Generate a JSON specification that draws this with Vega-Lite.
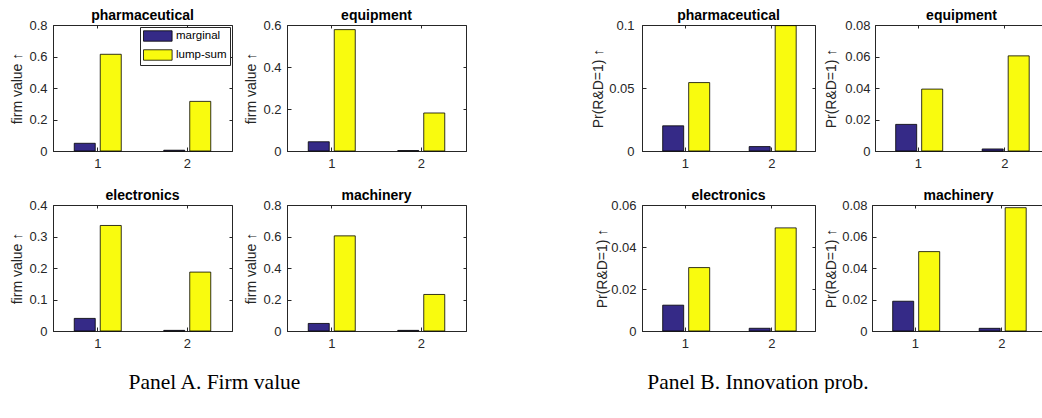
{
  "$schema": "https://vega.github.io/schema/vega-lite/v6.json",
  "padding": {"left": 10, "top": 8, "right": 0, "bottom": 0},
  "background": "white",
  "data": {"values": [
    {"panel": "A", "industry": "pharmaceutical", "k": 1, "type": "marginal", "value": 0.049},
    {"panel": "A", "industry": "pharmaceutical", "k": 1, "type": "lump-sum", "value": 0.614},
    {"panel": "A", "industry": "pharmaceutical", "k": 2, "type": "marginal", "value": 0.005},
    {"panel": "A", "industry": "pharmaceutical", "k": 2, "type": "lump-sum", "value": 0.315},
    {"panel": "A", "industry": "equipment", "k": 1, "type": "marginal", "value": 0.044},
    {"panel": "A", "industry": "equipment", "k": 1, "type": "lump-sum", "value": 0.578},
    {"panel": "A", "industry": "equipment", "k": 2, "type": "marginal", "value": 0.002},
    {"panel": "A", "industry": "equipment", "k": 2, "type": "lump-sum", "value": 0.181},
    {"panel": "A", "industry": "electronics", "k": 1, "type": "marginal", "value": 0.040},
    {"panel": "A", "industry": "electronics", "k": 1, "type": "lump-sum", "value": 0.335},
    {"panel": "A", "industry": "electronics", "k": 2, "type": "marginal", "value": 0.002},
    {"panel": "A", "industry": "electronics", "k": 2, "type": "lump-sum", "value": 0.187},
    {"panel": "A", "industry": "machinery", "k": 1, "type": "marginal", "value": 0.048},
    {"panel": "A", "industry": "machinery", "k": 1, "type": "lump-sum", "value": 0.604},
    {"panel": "A", "industry": "machinery", "k": 2, "type": "marginal", "value": 0.004},
    {"panel": "A", "industry": "machinery", "k": 2, "type": "lump-sum", "value": 0.232},
    {"panel": "B", "industry": "pharmaceutical", "k": 1, "type": "marginal", "value": 0.0200},
    {"panel": "B", "industry": "pharmaceutical", "k": 1, "type": "lump-sum", "value": 0.0543},
    {"panel": "B", "industry": "pharmaceutical", "k": 2, "type": "marginal", "value": 0.0035},
    {"panel": "B", "industry": "pharmaceutical", "k": 2, "type": "lump-sum", "value": 0.0995},
    {"panel": "B", "industry": "equipment", "k": 1, "type": "marginal", "value": 0.0169},
    {"panel": "B", "industry": "equipment", "k": 1, "type": "lump-sum", "value": 0.0393},
    {"panel": "B", "industry": "equipment", "k": 2, "type": "marginal", "value": 0.0013},
    {"panel": "B", "industry": "equipment", "k": 2, "type": "lump-sum", "value": 0.0604},
    {"panel": "B", "industry": "electronics", "k": 1, "type": "marginal", "value": 0.0123},
    {"panel": "B", "industry": "electronics", "k": 1, "type": "lump-sum", "value": 0.0302},
    {"panel": "B", "industry": "electronics", "k": 2, "type": "marginal", "value": 0.0013},
    {"panel": "B", "industry": "electronics", "k": 2, "type": "lump-sum", "value": 0.0491},
    {"panel": "B", "industry": "machinery", "k": 1, "type": "marginal", "value": 0.0189},
    {"panel": "B", "industry": "machinery", "k": 1, "type": "lump-sum", "value": 0.0504},
    {"panel": "B", "industry": "machinery", "k": 2, "type": "marginal", "value": 0.0017},
    {"panel": "B", "industry": "machinery", "k": 2, "type": "lump-sum", "value": 0.0783}
  ]},
  "spacing": 124,
  "resolve": {"scale": {"color": "independent"}, "legend": {"color": "independent"}},
  "hconcat": [
    {
      "spacing": 17,
      "resolve": {"scale": {"color": "independent"}, "legend": {"color": "independent"}},
      "title": {"text": "Panel A. Firm value", "orient": "bottom", "anchor": "start", "frame": "bounds", "dx": 118, "offset": 21, "font": "Liberation Serif", "fontSize": 21.5, "fontWeight": "normal", "color": "black"},
      "vconcat": [
        {
          "spacing": 11,
          "resolve": {"scale": {"color": "independent"}, "legend": {"color": "independent"}},
          "hconcat": [
            {
              "width": 179, "height": 126,
              "title": "pharmaceutical",
              "transform": [{"filter": "datum.panel == 'A' && datum.industry == 'pharmaceutical'"}],
              "resolve": {"axis": {"x": "independent", "y": "independent"}},
              "layer": [
                {
                  "mark": {"type": "bar", "stroke": "black", "strokeWidth": 0.8},
                  "encoding": {
                    "x": {"field": "k", "type": "ordinal", "scale": {"paddingInner": 0.374, "paddingOuter": 0.187}, "axis": {"title": null, "labelAngle": 0, "tickSize": -4, "labelPadding": 10}},
                    "xOffset": {"field": "type", "scale": {"domain": ["marginal", "lump-sum"], "paddingInner": 0.192, "paddingOuter": 0.173}},
                    "y": {"field": "value", "type": "quantitative", "scale": {"domain": [0, 0.8], "nice": false}, "axis": {"title": "firm value ↑", "values": [0, 0.2, 0.4, 0.6, 0.8], "format": "~g", "tickSize": -4, "labelPadding": 10, "titlePadding": 4}},
                    "color": {"field": "type", "type": "nominal", "scale": {"domain": ["marginal", "lump-sum"], "range": ["#352a87", "#f9fb0e"]},
                      "legend": {"title": null, "orient": "top-right", "offset": 2, "symbolType": "M-1,-0.95H4.2V0.95H-1Z", "symbolSize": 121, "symbolStrokeColor": "black", "symbolStrokeWidth": 0.8, "symbolOpacity": 1, "labelFont": "Liberation Sans", "labelFontSize": 11.5, "labelColor": "black", "labelOffset": 21, "padding": 3, "rowPadding": 5, "strokeColor": "#262626", "fillColor": "white"}}
                  }
                },
                {
                  "mark": {"type": "bar", "opacity": 0},
                  "encoding": {
                    "x": {"field": "k", "type": "ordinal", "axis": {"orient": "top", "title": null, "labels": false, "domain": false, "tickSize": -3}},
                    "y": {"field": "value", "type": "quantitative", "axis": {"orient": "right", "title": null, "labels": false, "domain": false, "tickSize": -3, "values": [0, 0.2, 0.4, 0.6, 0.8]}}
                  }
                }
              ]
            },
            {
              "width": 179, "height": 126,
              "title": "equipment",
              "transform": [{"filter": "datum.panel == 'A' && datum.industry == 'equipment'"}],
              "resolve": {"axis": {"x": "independent", "y": "independent"}},
              "layer": [
                {
                  "mark": {"type": "bar", "stroke": "black", "strokeWidth": 0.8},
                  "encoding": {
                    "x": {"field": "k", "type": "ordinal", "scale": {"paddingInner": 0.374, "paddingOuter": 0.187}, "axis": {"title": null, "labelAngle": 0, "tickSize": -4, "labelPadding": 10}},
                    "xOffset": {"field": "type", "scale": {"domain": ["marginal", "lump-sum"], "paddingInner": 0.192, "paddingOuter": 0.173}},
                    "y": {"field": "value", "type": "quantitative", "scale": {"domain": [0, 0.6], "nice": false}, "axis": {"title": "firm value ↑", "values": [0, 0.2, 0.4, 0.6], "format": "~g", "tickSize": -4, "labelPadding": 10, "titlePadding": 4}},
                    "color": {"field": "type", "type": "nominal", "scale": {"domain": ["marginal", "lump-sum"], "range": ["#352a87", "#f9fb0e"]}, "legend": null}
                  }
                },
                {
                  "mark": {"type": "bar", "opacity": 0},
                  "encoding": {
                    "x": {"field": "k", "type": "ordinal", "axis": {"orient": "top", "title": null, "labels": false, "domain": false, "tickSize": -3}},
                    "y": {"field": "value", "type": "quantitative", "axis": {"orient": "right", "title": null, "labels": false, "domain": false, "tickSize": -3, "values": [0, 0.2, 0.4, 0.6]}}
                  }
                }
              ]
            }
          ]
        },
        {
          "spacing": 11,
          "resolve": {"scale": {"color": "independent"}, "legend": {"color": "independent"}},
          "hconcat": [
            {
              "width": 179, "height": 126,
              "title": "electronics",
              "transform": [{"filter": "datum.panel == 'A' && datum.industry == 'electronics'"}],
              "resolve": {"axis": {"x": "independent", "y": "independent"}},
              "layer": [
                {
                  "mark": {"type": "bar", "stroke": "black", "strokeWidth": 0.8},
                  "encoding": {
                    "x": {"field": "k", "type": "ordinal", "scale": {"paddingInner": 0.374, "paddingOuter": 0.187}, "axis": {"title": null, "labelAngle": 0, "tickSize": -4, "labelPadding": 10}},
                    "xOffset": {"field": "type", "scale": {"domain": ["marginal", "lump-sum"], "paddingInner": 0.192, "paddingOuter": 0.173}},
                    "y": {"field": "value", "type": "quantitative", "scale": {"domain": [0, 0.4], "nice": false}, "axis": {"title": "firm value ↑", "values": [0, 0.1, 0.2, 0.3, 0.4], "format": "~g", "tickSize": -4, "labelPadding": 10, "titlePadding": 4}},
                    "color": {"field": "type", "type": "nominal", "scale": {"domain": ["marginal", "lump-sum"], "range": ["#352a87", "#f9fb0e"]}, "legend": null}
                  }
                },
                {
                  "mark": {"type": "bar", "opacity": 0},
                  "encoding": {
                    "x": {"field": "k", "type": "ordinal", "axis": {"orient": "top", "title": null, "labels": false, "domain": false, "tickSize": -3}},
                    "y": {"field": "value", "type": "quantitative", "axis": {"orient": "right", "title": null, "labels": false, "domain": false, "tickSize": -3, "values": [0, 0.1, 0.2, 0.3, 0.4]}}
                  }
                }
              ]
            },
            {
              "width": 179, "height": 126,
              "title": "machinery",
              "transform": [{"filter": "datum.panel == 'A' && datum.industry == 'machinery'"}],
              "resolve": {"axis": {"x": "independent", "y": "independent"}},
              "layer": [
                {
                  "mark": {"type": "bar", "stroke": "black", "strokeWidth": 0.8},
                  "encoding": {
                    "x": {"field": "k", "type": "ordinal", "scale": {"paddingInner": 0.374, "paddingOuter": 0.187}, "axis": {"title": null, "labelAngle": 0, "tickSize": -4, "labelPadding": 10}},
                    "xOffset": {"field": "type", "scale": {"domain": ["marginal", "lump-sum"], "paddingInner": 0.192, "paddingOuter": 0.173}},
                    "y": {"field": "value", "type": "quantitative", "scale": {"domain": [0, 0.8], "nice": false}, "axis": {"title": "firm value ↑", "values": [0, 0.2, 0.4, 0.6, 0.8], "format": "~g", "tickSize": -4, "labelPadding": 10, "titlePadding": 4}},
                    "color": {"field": "type", "type": "nominal", "scale": {"domain": ["marginal", "lump-sum"], "range": ["#352a87", "#f9fb0e"]}, "legend": null}
                  }
                },
                {
                  "mark": {"type": "bar", "opacity": 0},
                  "encoding": {
                    "x": {"field": "k", "type": "ordinal", "axis": {"orient": "top", "title": null, "labels": false, "domain": false, "tickSize": -3}},
                    "y": {"field": "value", "type": "quantitative", "axis": {"orient": "right", "title": null, "labels": false, "domain": false, "tickSize": -3, "values": [0, 0.2, 0.4, 0.6, 0.8]}}
                  }
                }
              ]
            }
          ]
        }
      ]
    },
    {
      "spacing": 17,
      "resolve": {"scale": {"color": "independent"}, "legend": {"color": "independent"}},
      "title": {"text": "Panel B. Innovation prob.", "orient": "bottom", "anchor": "start", "frame": "bounds", "dx": 56, "offset": 21, "font": "Liberation Serif", "fontSize": 21.5, "fontWeight": "normal", "color": "black"},
      "vconcat": [
        {
          "spacing": 8,
          "resolve": {"scale": {"color": "independent"}, "legend": {"color": "independent"}},
          "hconcat": [
            {
              "width": 173, "height": 126,
              "title": "pharmaceutical",
              "transform": [{"filter": "datum.panel == 'B' && datum.industry == 'pharmaceutical'"}],
              "resolve": {"axis": {"x": "independent", "y": "independent"}},
              "layer": [
                {
                  "mark": {"type": "bar", "stroke": "black", "strokeWidth": 0.8},
                  "encoding": {
                    "x": {"field": "k", "type": "ordinal", "scale": {"paddingInner": 0.374, "paddingOuter": 0.187}, "axis": {"title": null, "labelAngle": 0, "tickSize": -4, "labelPadding": 10}},
                    "xOffset": {"field": "type", "scale": {"domain": ["marginal", "lump-sum"], "paddingInner": 0.2, "paddingOuter": 0.18}},
                    "y": {"field": "value", "type": "quantitative", "scale": {"domain": [0, 0.1], "nice": false}, "axis": {"title": "Pr(R&D=1) ↑", "values": [0, 0.05, 0.1], "format": "~g", "tickSize": -4, "labelPadding": 12, "titlePadding": 3}},
                    "color": {"field": "type", "type": "nominal", "scale": {"domain": ["marginal", "lump-sum"], "range": ["#352a87", "#f9fb0e"]}, "legend": null}
                  }
                },
                {
                  "mark": {"type": "bar", "opacity": 0},
                  "encoding": {
                    "x": {"field": "k", "type": "ordinal", "axis": {"orient": "top", "title": null, "labels": false, "domain": false, "tickSize": -3}},
                    "y": {"field": "value", "type": "quantitative", "axis": {"orient": "right", "title": null, "labels": false, "domain": false, "tickSize": -3, "values": [0, 0.05, 0.1]}}
                  }
                }
              ]
            },
            {
              "width": 173, "height": 126,
              "title": "equipment",
              "transform": [{"filter": "datum.panel == 'B' && datum.industry == 'equipment'"}],
              "resolve": {"axis": {"x": "independent", "y": "independent"}},
              "layer": [
                {
                  "mark": {"type": "bar", "stroke": "black", "strokeWidth": 0.8},
                  "encoding": {
                    "x": {"field": "k", "type": "ordinal", "scale": {"paddingInner": 0.374, "paddingOuter": 0.187}, "axis": {"title": null, "labelAngle": 0, "tickSize": -4, "labelPadding": 10}},
                    "xOffset": {"field": "type", "scale": {"domain": ["marginal", "lump-sum"], "paddingInner": 0.2, "paddingOuter": 0.18}},
                    "y": {"field": "value", "type": "quantitative", "scale": {"domain": [0, 0.08], "nice": false}, "axis": {"title": "Pr(R&D=1) ↑", "values": [0, 0.02, 0.04, 0.06, 0.08], "format": "~g", "tickSize": -4, "labelPadding": 9, "titlePadding": 6}},
                    "color": {"field": "type", "type": "nominal", "scale": {"domain": ["marginal", "lump-sum"], "range": ["#352a87", "#f9fb0e"]}, "legend": null}
                  }
                },
                {
                  "mark": {"type": "bar", "opacity": 0},
                  "encoding": {
                    "x": {"field": "k", "type": "ordinal", "axis": {"orient": "top", "title": null, "labels": false, "domain": false, "tickSize": -3}},
                    "y": {"field": "value", "type": "quantitative", "axis": {"orient": "right", "title": null, "labels": false, "domain": false, "tickSize": -3, "values": [0, 0.02, 0.04, 0.06, 0.08]}}
                  }
                }
              ]
            }
          ]
        },
        {
          "spacing": 8,
          "resolve": {"scale": {"color": "independent"}, "legend": {"color": "independent"}},
          "hconcat": [
            {
              "width": 173, "height": 126,
              "title": "electronics",
              "transform": [{"filter": "datum.panel == 'B' && datum.industry == 'electronics'"}],
              "resolve": {"axis": {"x": "independent", "y": "independent"}},
              "layer": [
                {
                  "mark": {"type": "bar", "stroke": "black", "strokeWidth": 0.8},
                  "encoding": {
                    "x": {"field": "k", "type": "ordinal", "scale": {"paddingInner": 0.374, "paddingOuter": 0.187}, "axis": {"title": null, "labelAngle": 0, "tickSize": -4, "labelPadding": 10}},
                    "xOffset": {"field": "type", "scale": {"domain": ["marginal", "lump-sum"], "paddingInner": 0.2, "paddingOuter": 0.18}},
                    "y": {"field": "value", "type": "quantitative", "scale": {"domain": [0, 0.06], "nice": false}, "axis": {"title": "Pr(R&D=1) ↑", "values": [0, 0.02, 0.04, 0.06], "format": "~g", "tickSize": -4, "labelPadding": 10, "titlePadding": 1}},
                    "color": {"field": "type", "type": "nominal", "scale": {"domain": ["marginal", "lump-sum"], "range": ["#352a87", "#f9fb0e"]}, "legend": null}
                  }
                },
                {
                  "mark": {"type": "bar", "opacity": 0},
                  "encoding": {
                    "x": {"field": "k", "type": "ordinal", "axis": {"orient": "top", "title": null, "labels": false, "domain": false, "tickSize": -3}},
                    "y": {"field": "value", "type": "quantitative", "axis": {"orient": "right", "title": null, "labels": false, "domain": false, "tickSize": -3, "values": [0, 0.02, 0.04, 0.06]}}
                  }
                }
              ]
            },
            {
              "width": 173, "height": 126,
              "title": "machinery",
              "transform": [{"filter": "datum.panel == 'B' && datum.industry == 'machinery'"}],
              "resolve": {"axis": {"x": "independent", "y": "independent"}},
              "layer": [
                {
                  "mark": {"type": "bar", "stroke": "black", "strokeWidth": 0.8},
                  "encoding": {
                    "x": {"field": "k", "type": "ordinal", "scale": {"paddingInner": 0.374, "paddingOuter": 0.187}, "axis": {"title": null, "labelAngle": 0, "tickSize": -4, "labelPadding": 10}},
                    "xOffset": {"field": "type", "scale": {"domain": ["marginal", "lump-sum"], "paddingInner": 0.2, "paddingOuter": 0.18}},
                    "y": {"field": "value", "type": "quantitative", "scale": {"domain": [0, 0.08], "nice": false}, "axis": {"title": "Pr(R&D=1) ↑", "values": [0, 0.02, 0.04, 0.06, 0.08], "format": "~g", "tickSize": -4, "labelPadding": 9, "titlePadding": 3}},
                    "color": {"field": "type", "type": "nominal", "scale": {"domain": ["marginal", "lump-sum"], "range": ["#352a87", "#f9fb0e"]}, "legend": null}
                  }
                },
                {
                  "mark": {"type": "bar", "opacity": 0},
                  "encoding": {
                    "x": {"field": "k", "type": "ordinal", "axis": {"orient": "top", "title": null, "labels": false, "domain": false, "tickSize": -3}},
                    "y": {"field": "value", "type": "quantitative", "axis": {"orient": "right", "title": null, "labels": false, "domain": false, "tickSize": -3, "values": [0, 0.02, 0.04, 0.06, 0.08]}}
                  }
                }
              ]
            }
          ]
        }
      ]
    }
  ],
  "config": {
    "view": {"stroke": "#262626", "strokeWidth": 1},
    "axis": {"labelFont": "Liberation Sans", "labelFontSize": 13, "labelColor": "#262626", "titleFont": "Liberation Sans", "titleFontSize": 14, "titleFontWeight": "normal", "titleColor": "#262626", "domainColor": "#262626", "tickColor": "#262626", "grid": false},
    "title": {"font": "Liberation Sans", "fontSize": 14, "fontWeight": "bold", "color": "black", "offset": -4}
  }
}
